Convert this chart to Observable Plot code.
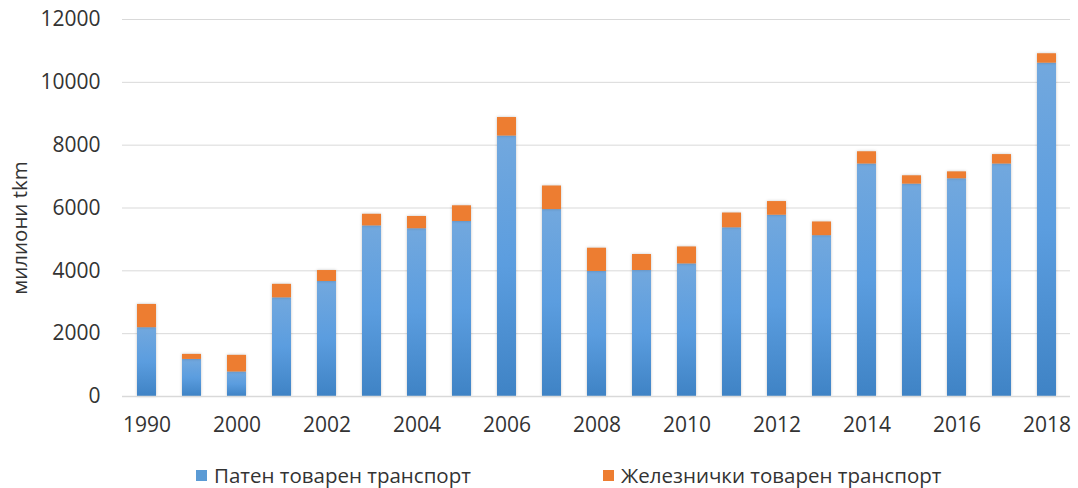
<!DOCTYPE html>
<html>
<head>
<meta charset="utf-8">
<script src="https://cdn.jsdelivr.net/npm/d3@7"></script>
<script src="https://cdn.jsdelivr.net/npm/@observablehq/plot@0.6"></script>
<style>
  body { margin: 0; background: #fff; font-family: "Open Sans", sans-serif; }
  #wrap { position: relative; width: 1078px; height: 488px; }
  .legend { position: absolute; top: 461px; left: 0; width: 1078px; height: 28px; font-size: 20.5px; color: #333; }
  .item { position: absolute; top: 0; display: flex; align-items: center; height: 28px; }
  .sw { width: 11px; height: 11px; margin-right: 7px; }
  .bars rect { filter: drop-shadow(0 0 1.5px rgba(0,0,0,0.22)); }
</style>
</head>
<body>
<div id="wrap"></div>
<script>
const years = ["1990","1995","2000","2001","2002","2003","2004","2005","2006","2007","2008","2009","2010","2011","2012","2013","2014","2015","2016","2017","2018"];
const road  = [2190, 1180, 780, 3140, 3660, 5430, 5340, 5570, 8290, 5950, 3980, 4010, 4220, 5370, 5770, 5120, 7400, 6760, 6930, 7400, 10610];
const rail  = [740, 160, 530, 430, 350, 370, 390, 500, 590, 750, 740, 510, 540, 470, 435, 435, 390, 265, 220, 300, 300];
const seriesNames = ["Патен товарен транспорт", "Железнички товарен транспорт"];
const seriesColors = ["url(#blueGrad)", "#ED7D31"];
const legendColors = ["#5B9BD5", "#ED7D31"];
const xTickLabels = ["1990","2000","2002","2004","2006","2008","2010","2012","2014","2016","2018"];
const yTicks = [0, 2000, 4000, 6000, 8000, 10000, 12000];
const yTitle = "милиони tkm";

const table = [];
years.forEach((y, i) => {
  table.push({year: y, series: seriesNames[0], value: road[i]});
  table.push({year: y, series: seriesNames[1], value: rail[i]});
});

const chart = Plot.plot({
  width: 1078,
  height: 448,
  marginLeft: 122,
  marginRight: 8,
  marginTop: 19,
  marginBottom: 52,
  style: { fontFamily: "Open Sans", fontSize: "21px", color: "#333", background: "#fff" },
  x: { domain: years, paddingInner: 0.58, paddingOuter: 0.29, label: null, tickSize: 0, tickPadding: 21, ticks: xTickLabels },
  y: { domain: [0, 12000], ticks: yTicks, label: null, tickSize: 0, tickPadding: 22, tickFormat: d => String(d) },
  color: { domain: seriesNames, range: seriesColors },
  marks: [
    Plot.gridY(yTicks, { stroke: "#d9d9d9", strokeOpacity: 1, strokeWidth: 1 }),
    Plot.barY(table, Plot.stackY({ x: "year", y: "value", fill: "series", order: seriesNames, className: "bars" })),
    Plot.ruleY([0], { stroke: "#d9d9d9", strokeWidth: 1.5 })
  ]
});

const svg = d3.select(chart);
const defs = svg.insert("defs", ":first-child");
const g = defs.append("linearGradient").attr("id", "blueGrad").attr("x1", 0).attr("y1", 0).attr("x2", 0).attr("y2", 1);
g.append("stop").attr("offset", "0%").attr("stop-color", "#72a8de");
g.append("stop").attr("offset", "50%").attr("stop-color", "#5b9ddf");
g.append("stop").attr("offset", "100%").attr("stop-color", "#3f83c5");

// y-axis title
svg.append("text")
  .attr("transform", "translate(27,228) rotate(-90)")
  .attr("text-anchor", "middle")
  .attr("font-family", "Open Sans")
  .attr("font-size", 20.5)
  .attr("fill", "#333")
  .text(yTitle);

const wrap = document.getElementById("wrap");
wrap.appendChild(chart);

const legend = document.createElement("div");
legend.className = "legend";
const lefts = [196, 603];
seriesNames.forEach((n, i) => {
  const it = document.createElement("div");
  it.className = "item";
  it.style.left = lefts[i] + "px";
  const sw = document.createElement("div");
  sw.className = "sw";
  sw.style.background = legendColors[i];
  const tx = document.createElement("span");
  tx.textContent = n;
  it.appendChild(sw); it.appendChild(tx);
  legend.appendChild(it);
});
wrap.appendChild(legend);
</script>
</body>
</html>
